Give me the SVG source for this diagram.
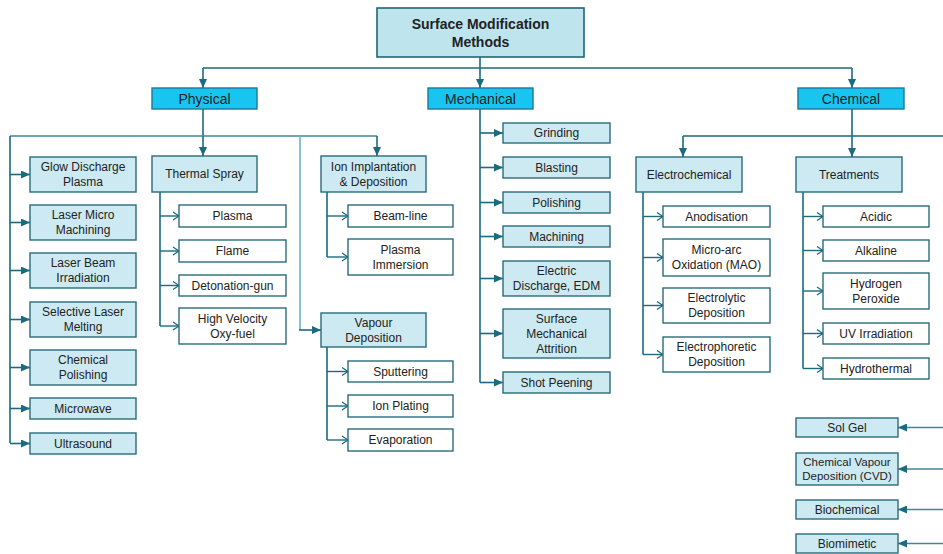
<svg xmlns="http://www.w3.org/2000/svg" width="943" height="554" viewBox="0 0 943 554">
<style>
.t{font-family:"Liberation Sans",Arial,sans-serif;font-size:12px;fill:#222;text-anchor:middle}
.tc{font-size:14px}
.tb{font-size:14px;font-weight:bold}
.root{fill:#BEE4EE;stroke:#1E6677;stroke-width:1.6}
.cat{fill:#17C5F0;stroke:#1A7A96;stroke-width:1.4}
.l1{fill:#CDEAF2;stroke:#2A6B7B;stroke-width:1.4}
.l2{fill:#fff;stroke:#2A6B7B;stroke-width:1.4}
.c{fill:none;stroke:#1B6A7D;stroke-width:1.6}
.ca{fill:none;stroke:#1B6A7D;stroke-width:1.6;marker-end:url(#tri)}
.co{fill:none;stroke:#1B6A7D;stroke-width:1.4;marker-end:url(#chev)}
.lt{stroke:#6FB3C1}
.ls{stroke:#3F8797}
</style>
<defs>
<marker id="tri" markerUnits="userSpaceOnUse" markerWidth="9" markerHeight="8" refX="9" refY="4" orient="auto"><path d="M0,0 L9,4 L0,8 z" fill="#1B6A7D"/></marker>
<marker id="chev" markerUnits="userSpaceOnUse" markerWidth="8" markerHeight="10" refX="7" refY="5" orient="auto"><path d="M1,1 L7,5 L1,9" fill="none" stroke="#1B6A7D" stroke-width="1.3"/></marker>
</defs>
<rect width="943" height="554" fill="#fff"/>
<g id="connectors">
<path class="c" d="M203,68 H852"/>
<path class="ca" d="M480,57 V88"/>
<path class="ca" d="M203,68 V88"/>
<path class="ca" d="M852,68 V88"/>
<!-- physical -->
<path class="c" d="M203,109 V136"/>
<path class="c ls" d="M10,136 H377"/>
<path class="ca" d="M203,136 V156"/>
<path class="ca" d="M377,136 V156"/>
<path class="c" d="M10,136 V443"/>
<path class="ca" d="M10,174.5 H30"/>
<path class="ca" d="M10,222.5 H30"/>
<path class="ca" d="M10,270.5 H30"/>
<path class="ca" d="M10,319.5 H30"/>
<path class="ca" d="M10,367.5 H30"/>
<path class="ca" d="M10,408.5 H30"/>
<path class="ca" d="M10,443.5 H30"/>
<path class="c lt" d="M300,136 V330"/>
<path class="ca" d="M299,330 H321"/>
<path class="c" d="M160,192 V326"/>
<path class="co" d="M160,216 H179"/>
<path class="co" d="M160,251 H179"/>
<path class="co" d="M160,285.5 H179"/>
<path class="co" d="M160,326 H179"/>
<path class="c" d="M327,192 V257"/>
<path class="co" d="M327,216 H348"/>
<path class="co" d="M327,257 H348"/>
<path class="c" d="M327,347 V440"/>
<path class="co" d="M327,371.5 H348"/>
<path class="co" d="M327,406 H348"/>
<path class="co" d="M327,440 H348"/>
<!-- mechanical -->
<path class="c" d="M480,109 V382.5"/>
<path class="ca" d="M480,133 H503"/>
<path class="ca" d="M480,167.5 H503"/>
<path class="ca" d="M480,202.5 H503"/>
<path class="ca" d="M480,236.5 H503"/>
<path class="ca" d="M480,278.5 H503"/>
<path class="ca" d="M480,333.5 H503"/>
<path class="ca" d="M480,382.5 H503"/>
<!-- chemical -->
<path class="c" d="M852,109 V136 M683,136 H943"/>
<path class="ca" d="M683,136 V157"/>
<path class="ca" d="M852,136 V157"/>
<path class="c" d="M643,192 V354.5"/>
<path class="co" d="M643,216.5 H663"/>
<path class="co" d="M643,257.5 H663"/>
<path class="co" d="M643,305.5 H663"/>
<path class="co" d="M643,354.5 H663"/>
<path class="c" d="M803,192 V368.5"/>
<path class="co" d="M803,216.5 H823"/>
<path class="co" d="M803,250.5 H823"/>
<path class="co" d="M803,291 H823"/>
<path class="co" d="M803,333.5 H823"/>
<path class="co" d="M803,368.5 H823"/>
<path class="ca ls" d="M943,427.5 H898"/>
<path class="ca ls" d="M943,469 H898"/>
<path class="ca ls" d="M943,509.5 H898"/>
<path class="ca ls" d="M943,543.5 H898"/>
</g>
<g id="root"><rect class="root" x="377" y="8" width="207" height="49"/><text class="t tb" x="480.5" y="29">Surface Modification</text><text class="t tb" x="480.5" y="47">Methods</text></g>
<g id="physical"><rect class="cat" x="152" y="88" width="105" height="21"/><text class="t tc" x="204.5" y="103.5">Physical</text></g>
<g id="mechanical"><rect class="cat" x="428" y="88" width="105" height="21"/><text class="t tc" x="480.5" y="103.5">Mechanical</text></g>
<g id="chemical"><rect class="cat" x="798" y="88" width="106" height="21"/><text class="t tc" x="851" y="103.5">Chemical</text></g>
<!-- left column -->
<g id="glow"><rect class="l1" x="30" y="157" width="106" height="35"/><text class="t" x="83" y="171">Glow Discharge</text><text class="t" x="83" y="186">Plasma</text></g>
<g id="lmm"><rect class="l1" x="30" y="205" width="106" height="35"/><text class="t" x="83" y="219">Laser Micro</text><text class="t" x="83" y="234">Machining</text></g>
<g id="lbi"><rect class="l1" x="30" y="253" width="106" height="35"/><text class="t" x="83" y="267">Laser Beam</text><text class="t" x="83" y="282">Irradiation</text></g>
<g id="slm"><rect class="l1" x="30" y="302" width="106" height="35"/><text class="t" x="83" y="316">Selective Laser</text><text class="t" x="83" y="331">Melting</text></g>
<g id="chempol"><rect class="l1" x="30" y="350" width="106" height="35"/><text class="t" x="83" y="364">Chemical</text><text class="t" x="83" y="379">Polishing</text></g>
<g id="microwave"><rect class="l1" x="30" y="398" width="106" height="21"/><text class="t" x="83" y="412.5">Microwave</text></g>
<g id="ultrasound"><rect class="l1" x="30" y="433" width="106" height="21"/><text class="t" x="83" y="447.5">Ultrasound</text></g>
<!-- thermal spray -->
<g id="thermal"><rect class="l1" x="152" y="156" width="105" height="36"/><text class="t" x="204.5" y="178">Thermal Spray</text></g>
<g id="ts-plasma"><rect class="l2" x="179" y="205" width="107" height="22"/><text class="t" x="232.5" y="220">Plasma</text></g>
<g id="ts-flame"><rect class="l2" x="179" y="240" width="107" height="22"/><text class="t" x="232.5" y="255">Flame</text></g>
<g id="ts-det"><rect class="l2" x="179" y="275" width="107" height="21"/><text class="t" x="232.5" y="289.5">Detonation-gun</text></g>
<g id="ts-hvof"><rect class="l2" x="179" y="308" width="107" height="36"/><text class="t" x="232.5" y="322.5">High Velocity</text><text class="t" x="232.5" y="337.5">Oxy-fuel</text></g>
<!-- ion implantation -->
<g id="ion"><rect class="l1" x="321" y="156" width="105" height="36"/><text class="t" x="373.5" y="170.5">Ion Implantation</text><text class="t" x="373.5" y="185.5">&amp; Deposition</text></g>
<g id="beamline"><rect class="l2" x="348" y="205" width="105" height="22"/><text class="t" x="400.5" y="220">Beam-line</text></g>
<g id="pii"><rect class="l2" x="348" y="239" width="105" height="36"/><text class="t" x="400.5" y="253.5">Plasma</text><text class="t" x="400.5" y="268.5">Immersion</text></g>
<!-- vapour -->
<g id="vapour"><rect class="l1" x="321" y="313" width="105" height="34"/><text class="t" x="373.5" y="326.5">Vapour</text><text class="t" x="373.5" y="341.5">Deposition</text></g>
<g id="sputtering"><rect class="l2" x="348" y="361" width="105" height="21"/><text class="t" x="400.5" y="375.5">Sputtering</text></g>
<g id="ionplating"><rect class="l2" x="348" y="395" width="105" height="22"/><text class="t" x="400.5" y="410">Ion Plating</text></g>
<g id="evaporation"><rect class="l2" x="348" y="429" width="105" height="22"/><text class="t" x="400.5" y="444">Evaporation</text></g>
<!-- mechanical children -->
<g id="grinding"><rect class="l1" x="503" y="123" width="107" height="20"/><text class="t" x="556.5" y="137">Grinding</text></g>
<g id="blasting"><rect class="l1" x="503" y="157" width="107" height="21"/><text class="t" x="556.5" y="171.5">Blasting</text></g>
<g id="polishing"><rect class="l1" x="503" y="192" width="107" height="21"/><text class="t" x="556.5" y="206.5">Polishing</text></g>
<g id="machining"><rect class="l1" x="503" y="226" width="107" height="21"/><text class="t" x="556.5" y="240.5">Machining</text></g>
<g id="edm"><rect class="l1" x="503" y="261" width="107" height="35"/><text class="t" x="556.5" y="275">Electric</text><text class="t" x="556.5" y="290">Discharge, EDM</text></g>
<g id="sma"><rect class="l1" x="503" y="309" width="107" height="49"/><text class="t" x="556.5" y="323">Surface</text><text class="t" x="556.5" y="338">Mechanical</text><text class="t" x="556.5" y="353">Attrition</text></g>
<g id="shot"><rect class="l1" x="503" y="372" width="107" height="21"/><text class="t" x="556.5" y="386.5">Shot Peening</text></g>
<!-- electrochemical -->
<g id="electrochem"><rect class="l1" x="636" y="157" width="106" height="35"/><text class="t" x="689" y="178.5">Electrochemical</text></g>
<g id="anodisation"><rect class="l2" x="663" y="206" width="107" height="21"/><text class="t" x="716.5" y="220.5">Anodisation</text></g>
<g id="mao"><rect class="l2" x="663" y="239" width="107" height="37"/><text class="t" x="716.5" y="254">Micro-arc</text><text class="t" x="716.5" y="269">Oxidation (MAO)</text></g>
<g id="electrolytic"><rect class="l2" x="663" y="288" width="107" height="35"/><text class="t" x="716.5" y="302">Electrolytic</text><text class="t" x="716.5" y="317">Deposition</text></g>
<g id="electrophoretic"><rect class="l2" x="663" y="337" width="107" height="35"/><text class="t" x="716.5" y="351">Electrophoretic</text><text class="t" x="716.5" y="366">Deposition</text></g>
<!-- treatments -->
<g id="treatments"><rect class="l1" x="796" y="157" width="106" height="35"/><text class="t" x="849" y="178.5">Treatments</text></g>
<g id="acidic"><rect class="l2" x="823" y="206" width="106" height="21"/><text class="t" x="876" y="220.5">Acidic</text></g>
<g id="alkaline"><rect class="l2" x="823" y="240" width="106" height="21"/><text class="t" x="876" y="254.5">Alkaline</text></g>
<g id="h2o2"><rect class="l2" x="823" y="273" width="106" height="36"/><text class="t" x="876" y="287.5">Hydrogen</text><text class="t" x="876" y="302.5">Peroxide</text></g>
<g id="uv"><rect class="l2" x="823" y="323" width="106" height="21"/><text class="t" x="876" y="337.5">UV Irradiation</text></g>
<g id="hydrothermal"><rect class="l2" x="823" y="358" width="106" height="21"/><text class="t" x="876" y="372.5">Hydrothermal</text></g>
<!-- bottom right -->
<g id="solgel"><rect class="l1" x="796" y="418" width="102" height="19"/><text class="t" x="847" y="431.5">Sol Gel</text></g>
<g id="cvd"><rect class="l1" x="796" y="453" width="102" height="32"/><text class="t" x="847" y="465.5" style="font-size:11.5px">Chemical Vapour</text><text class="t" x="847" y="479.5" style="font-size:11.5px">Deposition (CVD)</text></g>
<g id="biochemical"><rect class="l1" x="796" y="500" width="102" height="19"/><text class="t" x="847" y="513.5">Biochemical</text></g>
<g id="biomimetic"><rect class="l1" x="796" y="534" width="102" height="19"/><text class="t" x="847" y="547.5">Biomimetic</text></g>
</svg>
